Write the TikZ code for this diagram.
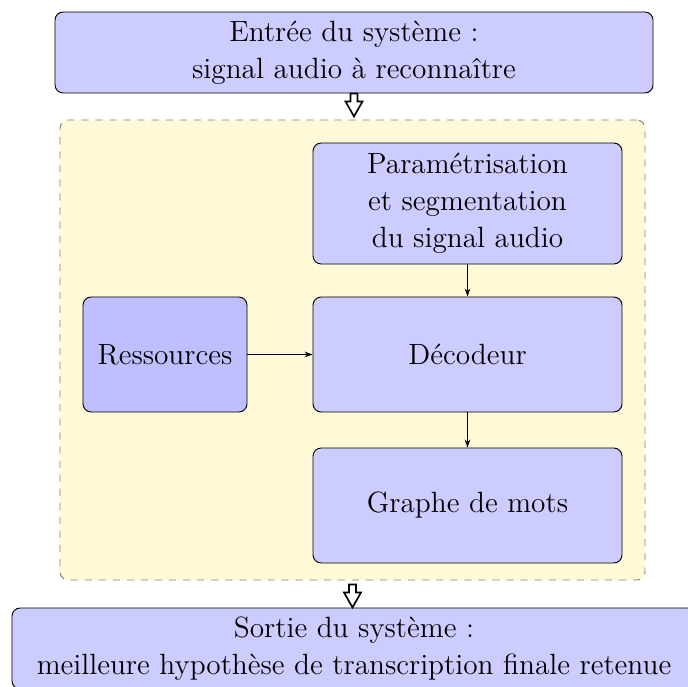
\documentclass[tikz,border=0pt]{standalone}
\usetikzlibrary{arrows.meta,calc}
\definecolor{fondjaune}{RGB}{255,249,215}
\newcommand\flechecreuse[1]{\draw[creuse] ($(#1)+(-3.5,0)$) -- ++(0,8) -- ++(-5,0) -- ++(8.5,15) -- ++(8.5,-15) -- ++(-5,0) -- ++(0,-8) -- cycle;}
\begin{document}
\begin{tikzpicture}[x=0.015cm,y=-0.015cm,>={Stealth[length=3.4pt,width=2.4pt]},
	font=\fontsize{12.5}{15.8}\selectfont,
	bloc/.style={draw,rounded corners=3.5pt,fill=blue!20,align=center,inner sep=0pt},
	cadre/.style={draw=gray,dashed,rounded corners=3.5pt,fill=fondjaune,inner sep=0pt},
	creuse/.style={draw,fill=white,line width=0.7pt,line join=miter}]
		\clip (0,0) rectangle (688,686);
		% cadre du systeme
		\node[cadre,minimum width=8.775cm,minimum height=6.9cm] (systeme) at (352.5,350) {};
		% entree et sortie
		\node[bloc,minimum width=8.97cm,minimum height=1.215cm] (entree) at (354,52.5) {Entrée du système :\\signal audio à reconnaître};
		\node[bloc,minimum width=10.26cm,minimum height=1.215cm] (sortie) at (354,648.5) {Sortie du système :\\meilleure hypothèse de transcription finale retenue};
		% modules
		\node[bloc,minimum width=4.635cm,minimum height=1.815cm] (param) at (467.5,203.5) {Paramétrisation\\et segmentation\\du signal audio};
		\node[bloc,minimum width=4.635cm,minimum height=1.725cm] (decodeur) at (467.5,354.5) {Décodeur};
		\node[bloc,minimum width=4.635cm,minimum height=1.725cm] (graphe) at (467.5,505.5) {Graphe de mots};
		\node[bloc,fill=blue!25,minimum width=2.46cm,minimum height=1.725cm] (ressources) at (165,354.5) {Ressources};
		\draw[->] (param) -- (decodeur);
		\draw[->] (decodeur) -- (graphe);
		\draw[->] (ressources) -- (decodeur);
		\flechecreuse{entree.south}
		\flechecreuse{$(systeme.south)+(0,4)$}
\end{tikzpicture}
\end{document}
